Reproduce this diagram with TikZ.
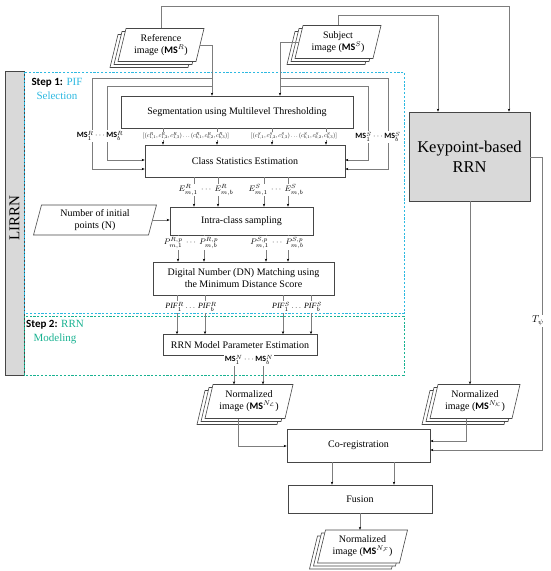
\documentclass[tikz,border=0pt]{standalone}
\usepackage{fontspec}
\usepackage{graphicx}
\setmainfont{Liberation Serif}
\newfontfamily\calfont{Carlito}
\usetikzlibrary{arrows.meta,calc}
\definecolor{lineg}{RGB}{125,125,125}
\definecolor{boxc}{RGB}{70,70,70}
\definecolor{stepA}{RGB}{45,185,225}
\definecolor{stepB}{RGB}{25,178,145}
\definecolor{fillg}{RGB}{217,217,217}
\newcommand{\MSb}{\hbox{\calfont\bfseries MS}}
% name, cx, cy, width, height, text
\newcommand{\imgstack}[6]{%
  \foreach \dx/\dy in {-8/6,-4/3,0/0}{%
    \draw[boxc, line width=0.6pt, fill=white] ({#2+\dx-#4/2+4},{#3+\dy-#5/2}) -- ({#2+\dx+#4/2+4},{#3+\dy-#5/2}) -- ({#2+\dx+#4/2-4},{#3+\dy+#5/2}) -- ({#2+\dx-#4/2-4},{#3+\dy+#5/2}) -- cycle;}
  \node[inner sep=0pt, minimum width=#4pt, minimum height=#5pt, align=center] (#1) at (#2,#3) {#6};}
\begin{document}
\begin{tikzpicture}[x=1pt,y=-1pt, font=\fontsize{10}{12}\selectfont,
  arr/.style={draw=lineg, line width=0.5pt, -{Stealth[length=3pt,width=2.4pt,color=black]}},
  ln/.style={draw=lineg, line width=0.5pt},
  procbox/.style={draw=boxc, line width=0.7pt, fill=white, inner sep=2pt, align=center},
  lab/.style={fill=white, inner sep=0.6pt, font=\fontsize{8}{9}\selectfont},
  tinylab/.style={fill=white, inner sep=0.6pt},
  dashA/.style={draw=stepA, line width=0.9pt, dash pattern=on 2.2pt off 1.6pt},
  dashB/.style={draw=stepB, line width=0.9pt, dash pattern=on 2.2pt off 1.6pt}]
\useasboundingbox (0,0) rectangle (550,571);

% LIRRN bar and step frames
\draw[boxc, line width=0.6pt, fill=fillg] (5,71) rectangle (24,375);
\node[rotate=90, font=\fontsize{15}{17}\selectfont] (lirrn) at (14.5,218) {LIRRN};
\draw[dashA] (24,72) rectangle (404,313);
\draw[dashB] (24,316) rectangle (404,375);
\node[align=center, inner sep=0pt, font=\fontsize{11}{14}\selectfont] (s1) at (57,89) {{\calfont\bfseries Step 1:} \textcolor{stepA}{PIF}\\\textcolor{stepA}{Selection}};
\node[align=center, inner sep=0pt, font=\fontsize{11}{14}\selectfont] (s2) at (55,332) {{\calfont\bfseries Step 2:} \textcolor{stepB}{RRN}\\\textcolor{stepB}{Modeling}};

% input images
\imgstack{ref}{161}{45}{78}{33}{Reference\\image (${\MSb}^{R}$)}
\imgstack{subj}{338}{42}{78}{33}{Subject\\image (${\MSb}^{S}$)}

% process boxes
\node[procbox, minimum width=232pt, minimum height=32pt] (seg) at (237,112) {Segmentation using Multilevel Thresholding};
\node[procbox, minimum width=200pt, minimum height=32pt] (cls) at (245,161) {Class Statistics Estimation};
\node[procbox, minimum width=143pt, minimum height=28pt] (intra) at (241.5,221) {Intra-class sampling};
\node[procbox, minimum width=181pt, minimum height=33pt] (dn) at (243.5,278.5) {Digital Number (DN) Matching using\\the Minimum Distance Score};
\node[procbox, minimum width=154pt, minimum height=21pt] (rrn) at (240,345) {RRN Model Parameter Estimation};
\node[procbox, fill=fillg, minimum width=121pt, minimum height=89pt, font=\fontsize{16.5}{20}\selectfont] (kp) at (469.5,156.5) {Keypoint-based\\RRN};
\node[procbox, minimum width=143pt, minimum height=33pt] (co) at (358.5,445.5) {Co-registration};
\node[procbox, minimum width=144pt, minimum height=28pt] (fu) at (360,499) {Fusion};

% number of initial points
\draw[boxc, line width=0.6pt, fill=white] (41.5,205) -- (156.5,205) -- (148.5,235) -- (33.5,235) -- cycle;
\node[inner sep=0pt, minimum width=115pt, minimum height=30pt, align=center] (num) at (95,220) {Number of initial\\points (N)};

% output images
\imgstack{nl}{249}{401.5}{80}{34}{Normalized\\image (${\MSb}^{N_{\mathcal{L}}}$)}
\imgstack{nk}{475}{401.5}{82}{34}{Normalized\\image (${\MSb}^{N_{\mathcal{K}}}$)}
\imgstack{nf}{362.5}{546.5}{82}{33}{Normalized\\image (${\MSb}^{N_{\mathcal{F}}}$)}

% junction coordinates
\coordinate (rj1) at (212,78);
\coordinate (rj2) at (212,86);
\coordinate (sj1) at (280,78);
\coordinate (sj2) at (280,86);

% inputs to segmentation and loops
\draw[arr] (ref.east) -| (seg.north -| rj1);
\draw[arr] (subj.west) -| (seg.north -| sj1);
\draw[arr] (rj1) -| (92,169) -- (cls.west |- 0,169);
\draw[arr] (rj2) -| (107,160) -- (cls.west |- 0,160);
\draw[arr] (sj1) -| (388,169) -- (cls.east |- 0,169);
\draw[arr] (sj2) -| (368,160) -- (cls.east |- 0,160);

% inputs to keypoint-based RRN
\draw[arr] (ref.north) |- (509,6) -- (kp.north -| 509,0);
\draw[arr] (subj.north) |- (438,15) -- (kp.north -| 438,0);

% vertical chains
\foreach \x in {163,217,272,326} \draw[arr] (seg.south -| \x,0) -- (cls.north -| \x,0);
\foreach \x in {194,218,264,288} \draw[arr] (cls.south -| \x,0) -- (intra.north -| \x,0);
\foreach \x in {178,204,266,288} \draw[arr] (intra.south -| \x,0) -- (dn.north -| \x,0);
\foreach \x in {177,205,283,311} \draw[arr] (dn.south -| \x,0) -- (rrn.north -| \x,0);
\foreach \x in {234,263} \draw[arr] (rrn.south -| \x,0) -- (nl.north -| \x,0);
\draw[arr] (num.east) -- (intra.west |- num.east);

% labels
\node[lab] (msr) at (100,136) {${\MSb}^{R}_{1}\cdots{\MSb}^{R}_{b}$};
\node[lab] (mss) at (378,137) {${\MSb}^{S}_{1}\cdots{\MSb}^{S}_{b}$};
\node[tinylab] (cr) at (186,136) {\resizebox{86pt}{!}{$[(c^R_{1,1},c^R_{1,2},c^R_{1,3})\ldots(c^R_{b,1},c^R_{b,2},c^R_{b,3})]$}};
\node[tinylab] (cs) at (294,136) {\resizebox{86pt}{!}{$[(c^S_{1,1},c^S_{1,2},c^S_{1,3})\ldots(c^S_{b,1},c^S_{b,2},c^S_{b,3})]$}};
\node[lab] (er) at (206,190) {$E^R_{m,1}\ \cdots\ E^R_{m,b}$};
\node[lab] (es) at (276,190) {$E^S_{m,1}\ \cdots\ E^S_{m,b}$};
\node[lab] (pr) at (191,243) {$P^{R,p}_{m,1}\ \cdots\ P^{R,p}_{m,b}$};
\node[lab] (ps) at (277,243) {$P^{S,p}_{m,1}\ \cdots\ P^{S,p}_{m,b}$};
\node[lab] (pifr) at (191,307) {$\mathit{PIF}^R_1\ldots\,\mathit{PIF}^R_b$};
\node[lab] (pifs) at (297,307) {$\mathit{PIF}^S_1\ldots\,\mathit{PIF}^S_b$};
\node[lab] (msn) at (249,360) {${\MSb}^{N}_{1}\cdots{\MSb}^{N}_{b}$};

% keypoint outputs and fusion chain
\draw[arr] (kp.south -| 470,0) -- (nk.north -| 470,0);
\draw[arr] (kp.east |- 0,157) -| (542,450) -- (co.east |- 0,450);
\node[fill=white, inner sep=1pt] (tpsi) at (538,321) {$T_\psi$};
\draw[arr] (nk.south -| 466,0) |- (co.east |- 0,441);
\draw[arr] (nl.south -| 238,0) |- (co.west |- 0,446);
\foreach \x in {332,394} \draw[arr] (co.south -| \x,0) -- (fu.north -| \x,0);
\draw[arr] (fu.south -| 360,0) -- (nf.north -| 360,0);
\end{tikzpicture}
\end{document}
